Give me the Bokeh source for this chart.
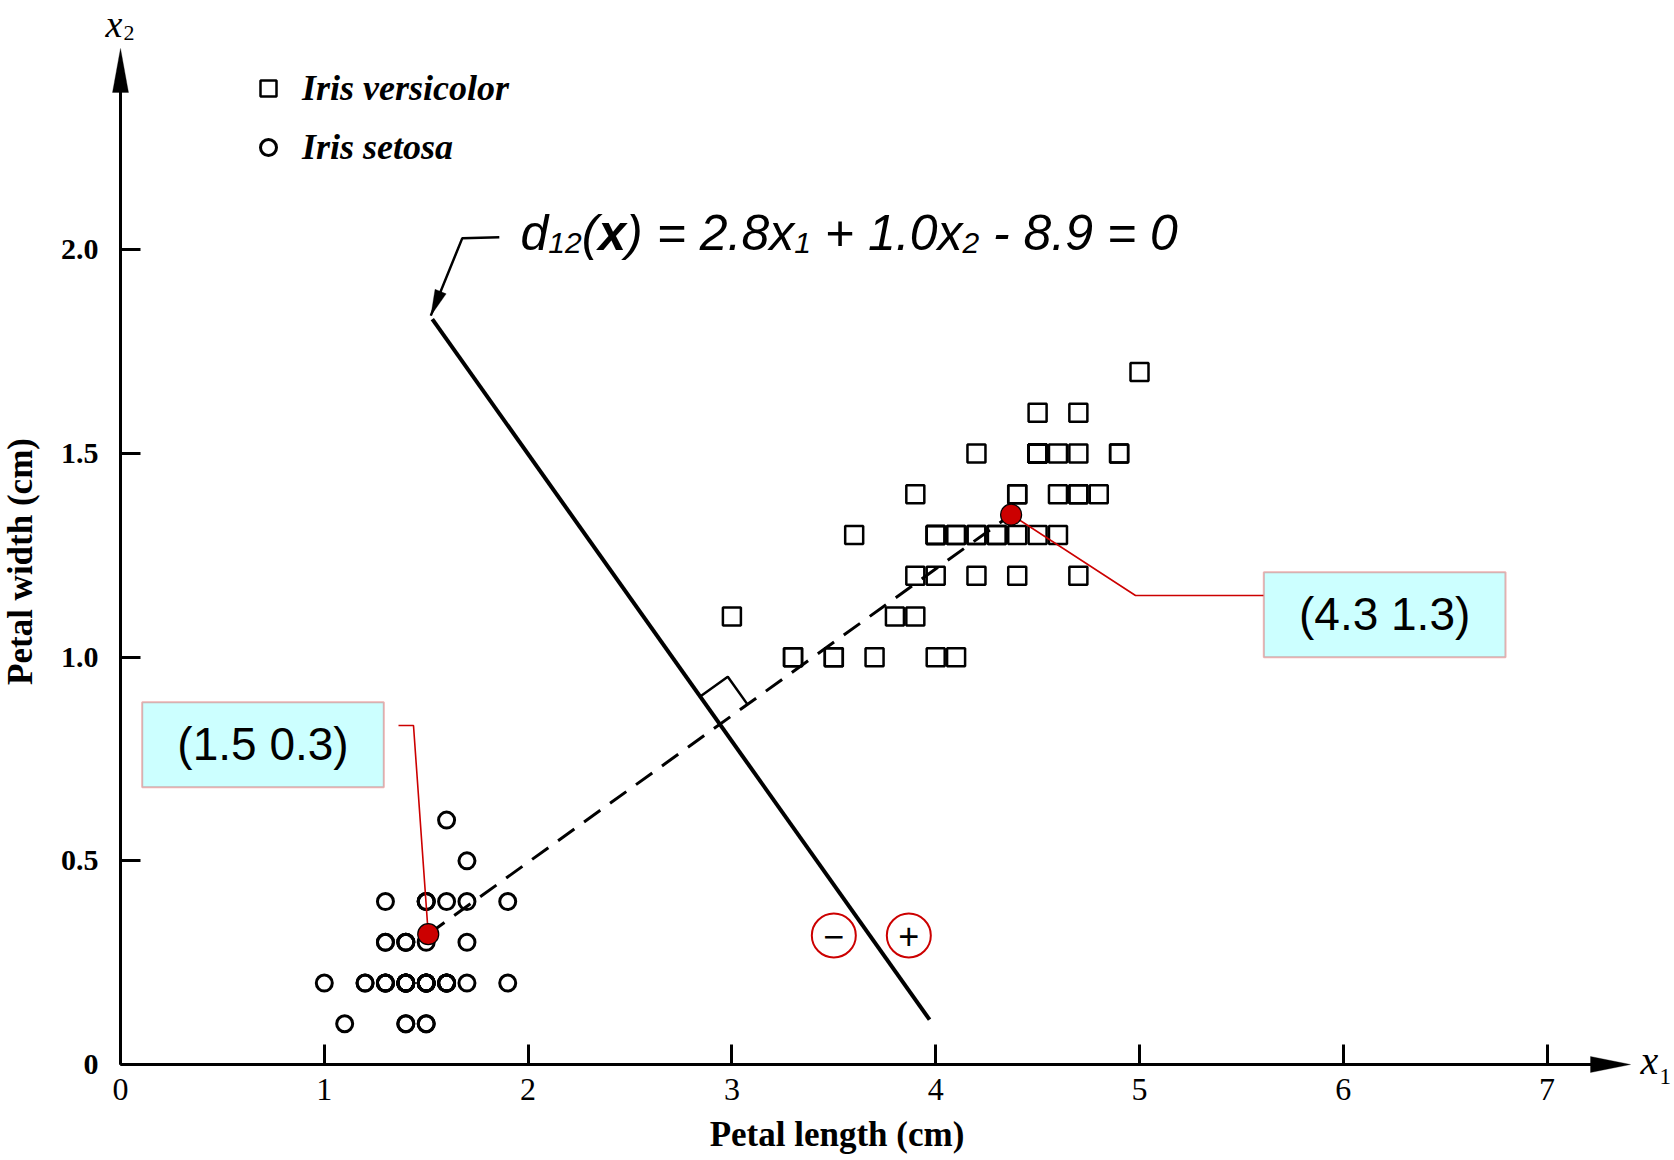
import math
from bokeh.plotting import figure
from bokeh.models import (Range1d, FixedTicker, CustomJSTickFormatter, Label, Legend, LegendItem,
                          BoxAnnotation, PolyAnnotation, Arrow)
from bokeh.embed import file_html
from bokeh.resources import INLINE

# ---------------- data ----------------
SETOSA_LENGTH = [1.4, 1.4, 1.3, 1.5, 1.4, 1.7, 1.4, 1.5, 1.4, 1.5,
                 1.5, 1.6, 1.4, 1.1, 1.2, 1.5, 1.3, 1.4, 1.7, 1.5,
                 1.7, 1.5, 1.0, 1.7, 1.9, 1.6, 1.6, 1.5, 1.4, 1.6,
                 1.6, 1.5, 1.5, 1.4, 1.5, 1.2, 1.3, 1.4, 1.3, 1.5,
                 1.3, 1.3, 1.3, 1.6, 1.9, 1.4, 1.6, 1.4, 1.5, 1.4]
SETOSA_WIDTH = [0.2, 0.2, 0.2, 0.2, 0.2, 0.4, 0.3, 0.2, 0.2, 0.1,
                0.2, 0.2, 0.1, 0.1, 0.2, 0.4, 0.4, 0.3, 0.3, 0.3,
                0.2, 0.4, 0.2, 0.5, 0.2, 0.2, 0.4, 0.2, 0.2, 0.2,
                0.2, 0.4, 0.1, 0.2, 0.2, 0.2, 0.2, 0.1, 0.2, 0.2,
                0.3, 0.3, 0.2, 0.6, 0.4, 0.3, 0.2, 0.2, 0.2, 0.2]
VERSICOLOR_LENGTH = [4.7, 4.5, 4.9, 4.0, 4.6, 4.5, 4.7, 3.3, 4.6, 3.9,
                     3.5, 4.2, 4.0, 4.7, 3.6, 4.4, 4.5, 4.1, 4.5, 3.9,
                     4.0, 4.9, 4.7, 4.3, 4.4, 4.8, 5.0, 4.5, 3.5, 3.8,
                     3.7, 3.9, 4.5, 4.5, 4.7, 4.4, 4.1, 4.0, 4.4, 4.6,
                     4.0, 3.3, 4.2, 4.2, 4.2, 4.3, 3.0, 4.1]
VERSICOLOR_WIDTH = [1.4, 1.5, 1.5, 1.3, 1.5, 1.3, 1.6, 1.0, 1.3, 1.4,
                    1.0, 1.5, 1.0, 1.4, 1.3, 1.4, 1.5, 1.0, 1.5, 1.1,
                    1.3, 1.5, 1.2, 1.3, 1.4, 1.4, 1.7, 1.5, 1.0, 1.1,
                    1.0, 1.2, 1.5, 1.6, 1.5, 1.3, 1.3, 1.3, 1.2, 1.4,
                    1.2, 1.0, 1.3, 1.2, 1.3, 1.3, 1.1, 1.3]
MEAN_LENGTH = [1.51, 4.37]
MEAN_WIDTH = [0.32, 1.35]
MEAN_LABELS = ["(1.5 0.3)", "(4.3 1.3)"]
BOUNDARY_LENGTH = [1.53, 3.97]
BOUNDARY_WIDTH = [1.83, 0.11]
X_TICKS = [0, 1, 2, 3, 4, 5, 6, 7]
Y_TICKS = [0, 0.5, 1.0, 1.5, 2.0]
Y_TICK_LABELS = ["0", "0.5", "1.0", "1.5", "2.0"]
SERIES_NAMES = ["Iris versicolor", "Iris setosa"]
X_LABEL = "Petal length (cm)"
Y_LABEL = "Petal width (cm)"

# ---------------- layout ----------------
W, H = 1674, 1160
PX_X, PX_Y = 203.8, 407.3          # pixels per data unit
LEFT_PAGE, BOTTOM_PAGE = 120, 1064  # page position of the origin
RED = "#CC0000"
SERIF = "Liberation Serif"
SANS = "Liberation Sans"


def dx(px):
    return (px - LEFT_PAGE) / PX_X


def dy(py):
    return (BOTTOM_PAGE - py) / PX_Y


def to_px(x, y):
    return LEFT_PAGE + x * PX_X, BOTTOM_PAGE - y * PX_Y


p = figure(width=W, height=H, min_border_left=0, min_border_right=0, min_border_top=0,
           min_border_bottom=0,
           x_range=Range1d(dx(0), dx(W)), y_range=Range1d(dy(H), dy(0)),
           output_backend="svg", toolbar_location=None,
           background_fill_color="white", border_fill_color="white")
p.outline_line_color = None
p.grid.visible = False

X_TIP = dx(1630)
Y_TIP = dy(48)

p.xaxis.ticker = FixedTicker(ticks=X_TICKS)
p.yaxis.ticker = FixedTicker(ticks=Y_TICKS)
p.yaxis.formatter = CustomJSTickFormatter(
    args=dict(vals=Y_TICKS, labs=Y_TICK_LABELS),
    code="const i = vals.findIndex(t => Math.abs(t - tick) < 1e-9); return i >= 0 ? labs[i] : '';")
for ax in (p.xaxis[0], p.yaxis[0]):
    ax.fixed_location = 0
    ax.axis_line_color = "black"
    ax.axis_line_width = 3
    ax.major_tick_in = 20
    ax.major_tick_out = 0
    ax.major_tick_line_width = 3
    ax.major_tick_line_color = "black"
    ax.minor_tick_line_color = None
    ax.major_label_text_font = SERIF
    ax.major_label_text_color = "black"
    ax.axis_label_text_font = SERIF
    ax.axis_label_text_font_size = "35px"
    ax.axis_label_text_font_style = "bold"
    ax.axis_label_text_color = "black"
p.xaxis.bounds = (0, 7.03)
p.yaxis.bounds = (0, Y_TIP - 10 / PX_Y)
p.xaxis.axis_label = X_LABEL
p.yaxis.axis_label = Y_LABEL
p.xaxis.major_label_text_font_size = "32px"
p.xaxis.major_label_standoff = 14
p.xaxis.axis_label_standoff = 12
p.yaxis.major_label_text_font_size = "30px"
p.yaxis.major_label_text_font_style = "bold"
p.yaxis.major_label_standoff = 22
p.yaxis.axis_label_standoff = 18


def head(tip_x, tip_y, ux, uy, length, half):
    bx, by = -ux * length, -uy * length
    nx, ny = -uy, ux
    pts = [(0, 0), (bx + nx * half, by + ny * half), (bx - nx * half, by - ny * half)]
    return PolyAnnotation(xs=[tip_x + a / PX_X for a, b in pts],
                          ys=[tip_y + b / PX_Y for a, b in pts],
                          xs_units="data", ys_units="data",
                          fill_color="black", fill_alpha=1, line_color="black", line_width=1)


# axis arrow extensions and heads
p.add_layout(Arrow(x_start=7.0, y_start=0, x_end=X_TIP - 20 / PX_X, y_end=0, end=None,
                   line_width=3, line_color="black"))
p.add_layout(head(X_TIP, 0, 1, 0, 40, 8))
p.add_layout(head(0, Y_TIP, 0, 1, 44, 8))


def note(px, py, text, size, style="normal", font=SERIF, align="left"):
    p.add_layout(Label(x=dx(px), y=dy(py), text=text, text_font=font, text_font_style=style,
                       text_font_size=f"{size}px", text_baseline="middle", text_align=align,
                       text_color="black"))


# axis names x1, x2
note(1640, 1060, "x", 40, "italic")
note(1659, 1076, "1", 23)
note(105, 23, "x", 38, "italic")
note(123, 32, "2", 22)

# data
r_set = p.scatter(SETOSA_LENGTH, SETOSA_WIDTH, marker="circle", size=16,
                  fill_color=None, line_color="black", line_width=3)
r_ver = p.scatter(VERSICOLOR_LENGTH, VERSICOLOR_WIDTH, marker="square", size=18,
                  fill_color=None, line_color="black", line_width=2.5)

# line joining the means and decision boundary
p.line(MEAN_LENGTH, MEAN_WIDTH, line_dash="20 12", line_width=3, line_color="black")
p.line(BOUNDARY_LENGTH, BOUNDARY_WIDTH, line_width=4, line_color="black")


# right-angle marker (computed in pixel space, y up)
def up(x, y):
    return x * PX_X, y * PX_Y


a0 = up(MEAN_LENGTH[0], MEAN_WIDTH[0]); a1 = up(MEAN_LENGTH[1], MEAN_WIDTH[1])
b0 = up(BOUNDARY_LENGTH[0], BOUNDARY_WIDTH[0]); b1 = up(BOUNDARY_LENGTH[1], BOUNDARY_WIDTH[1])
d1 = (a1[0] - a0[0], a1[1] - a0[1]); d2 = (b1[0] - b0[0], b1[1] - b0[1])
den = d1[0] * d2[1] - d1[1] * d2[0]
t = ((b0[0] - a0[0]) * d2[1] - (b0[1] - a0[1]) * d2[0]) / den
P = (a0[0] + t * d1[0], a0[1] + t * d1[1])
n1 = math.hypot(*d1); n2 = math.hypot(*d2)
ud = (d1[0] / n1, d1[1] / n1)            # toward versicolor mean
ub = (-d2[0] / n2, -d2[1] / n2)          # toward boundary top
s = 34
corner = [(P[0] + s * ub[0], P[1] + s * ub[1]),
          (P[0] + s * (ub[0] + ud[0]), P[1] + s * (ub[1] + ud[1])),
          (P[0] + s * ud[0], P[1] + s * ud[1])]
p.line([c[0] / PX_X for c in corner], [c[1] / PX_Y for c in corner], line_width=2.5, line_color="black")

# callout leader lines
p.line([dx(398), dx(413), MEAN_LENGTH[0]], [dy(725), dy(725), MEAN_WIDTH[0]],
       line_color=RED, line_width=1.6)
p.line([MEAN_LENGTH[1], dx(1135), dx(1263)], [MEAN_WIDTH[1], dy(595), dy(595)],
       line_color=RED, line_width=1.6)

# class means
p.scatter(MEAN_LENGTH, MEAN_WIDTH, marker="circle", size=21, fill_color=RED,
          line_color="black", line_width=1.2)

# +/- side markers
sign_y = 935
frac = (dy(sign_y) - BOUNDARY_WIDTH[0]) / (BOUNDARY_WIDTH[1] - BOUNDARY_WIDTH[0])
xb_px = to_px(BOUNDARY_LENGTH[0] + frac * (BOUNDARY_LENGTH[1] - BOUNDARY_LENGTH[0]), 0)[0]
sign_xs = [xb_px - 36, xb_px + 39]
p.scatter([dx(v) for v in sign_xs], [dy(sign_y)] * 2, marker="circle", size=44,
          fill_color=None, line_color=RED, line_width=2)
for sx, txt in zip(sign_xs, ["\u2212", "+"]):
    note(sx, sign_y, txt, 36, font=SANS, align="center")

# callout boxes
boxes = [(141.7, 701.7, 383.3, 786.7), (1263.3, 571.7, 1505, 656.7)]
for (l, tp, r, b), txt in zip(boxes, MEAN_LABELS):
    p.add_layout(BoxAnnotation(left=dx(l), right=dx(r), top=dy(tp), bottom=dy(b),
                               fill_color="#CCFFFF", fill_alpha=1, line_color=RED, line_width=2))
    note((l + r) / 2, (tp + b) / 2 - 1, txt, 46, font=SANS, align="center")

# arrow from the equation to the boundary line (page coordinates, y down)
bx_top = to_px(BOUNDARY_LENGTH[0], BOUNDARY_WIDTH[0])
tip_pg = (bx_top[0] - 1.5, bx_top[1] - 3.5)
bend_pg = (bx_top[0] + 30, bx_top[1] - 81)
hend_pg = (bx_top[0] + 67, bx_top[1] - 82)
p.line([dx(hend_pg[0]), dx(bend_pg[0]), dx(tip_pg[0])],
       [dy(hend_pg[1]), dy(bend_pg[1]), dy(tip_pg[1])], line_width=2.5, line_color="black")
vx, vy = tip_pg[0] - bend_pg[0], -(tip_pg[1] - bend_pg[1])
nv = math.hypot(vx, vy)
p.add_layout(head(dx(tip_pg[0]), dy(tip_pg[1]), vx / nv, vy / nv, 26, 6))

# equation d12(x) = 2.8x1 + 1.0x2 - 8.9 = 0
ARIAL = {'d': 556, '1': 556, '2': 556, '8': 556, '9': 556, '0': 556, '.': 278, ' ': 278,
         '(': 333, ')': 333, '=': 584, '+': 584, '-': 333, 'x': 500}
F, S = 50, 30
EQ_LEFT, EQ_MID, SUB_DROP = 520, 232, 10
segments = [("d", F, "italic", False), ("12", S, "italic", True), ("(", F, "italic", False),
            ("x", F, "bold italic", False), (") = 2.8x", F, "italic", False),
            ("1", S, "italic", True), (" + 1.0x", F, "italic", False),
            ("2", S, "italic", True), (" - 8.9 = 0", F, "italic", False)]
off = 0.0
for txt, size, style, sub in segments:
    lead = len(txt) - len(txt.lstrip(" "))
    w_full = sum(ARIAL[c] for c in txt) * size / 1000
    if "bold" in style:
        w_full = 556 * size / 1000
    start = off + lead * ARIAL[' '] * size / 1000
    note(EQ_LEFT + start, EQ_MID + (SUB_DROP if sub else 0), txt.strip(" "), size, style, SANS)
    off += w_full

# legend
legend = Legend(items=[LegendItem(label=SERIES_NAMES[0], renderers=[r_ver]),
                       LegendItem(label=SERIES_NAMES[1], renderers=[r_set])],
                location=(248, 992), orientation="vertical",
                glyph_width=40, glyph_height=40, label_height=40, spacing=17,
                padding=0, margin=0, label_standoff=14,
                label_text_font=SERIF, label_text_font_style="bold italic",
                label_text_font_size="36px", label_text_color="black",
                border_line_color=None, background_fill_alpha=0)
p.add_layout(legend)

open("out.html", "w").write(file_html(p, INLINE, title="Iris decision boundary"))
